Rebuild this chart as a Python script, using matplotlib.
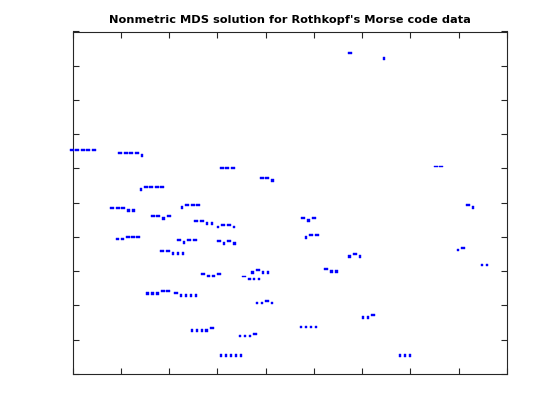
import matplotlib
matplotlib.use("Agg")
import matplotlib.pyplot as plt
import matplotlib.transforms as mtransforms
import matplotlib.patheffects as pe

# Morse code labels (A-Z, 0-9)
codes = [".-", "-...", "-.-.", "-..", ".", "..-.", "--.", "....", "..", ".---",
         "-.-", ".-..", "--", "-.", "---", ".--.", "--.-", ".-.", "...", "-",
         "..-", "...-", ".--", "-..-", "-.--", "--..",
         "-----", ".----", "..---", "...--", "....-", ".....", "-....", "--...", "---..", "----."]

# 2-D nonmetric MDS coordinates
x_coord = [0.355, -0.079, -0.131, 0.086, 0.195, -0.052, -0.047, 0.039, 0.404, -0.206,
           0.039, -0.061, 0.308, 0.375, -0.129, -0.132, -0.267, 0.135, 0.239, 0.124,
           0.163, -0.087, 0.045, -0.163, -0.213, -0.178,
           -0.429, -0.286, -0.335, -0.273, -0.182, -0.122, -0.216, -0.243, -0.346, -0.329]
y_coord = [-0.132, -0.216, -0.113, -0.194, 0.428, -0.287, 0.072, -0.357, -0.176, -0.007,
           -0.045, -0.197, 0.105, -0.007, 0.102, -0.065, -0.040, -0.150, -0.439, 0.437,
           -0.328, -0.383, -0.095, -0.208, -0.109, -0.054,
           0.154, 0.045, -0.100, -0.258, -0.366, -0.439, -0.264, -0.141, -0.016, 0.145]

fig = plt.figure(figsize=(5.6, 4.2), dpi=100)
ax = fig.add_axes([0.13, 0.11, 0.775, 0.815])

ax.plot(x_coord, y_coord, linestyle="none", marker="none")
offset = mtransforms.ScaledTranslation(0, -3.6 / 100, fig.dpi_scale_trans)
for xv, yv, c in zip(x_coord, y_coord, codes):
    ax.text(xv, yv, c, color="b", fontsize=9.4, fontweight="bold",
            ha="center", va="baseline", family="DejaVu Sans",
            transform=ax.transData + offset,
            path_effects=[pe.withStroke(linewidth=0.3, foreground="b")])

ax.set_xlim(-0.45, 0.45)
ax.set_ylim(-0.5, 0.5)
ax.set_xticks([-0.45 + 0.1 * i for i in range(10)])
ax.set_yticks([-0.5 + 0.1 * i for i in range(11)])
ax.set_xticklabels([])
ax.set_yticklabels([])
ax.tick_params(direction="in", length=4, width=0.8, color="#262626",
               top=True, right=True)
for s in ax.spines.values():
    s.set_linewidth(0.8)
    s.set_color("#262626")

ax.set_title("Nonmetric MDS solution for Rothkopf's Morse code data",
             fontsize=8.2, fontweight="bold", family="DejaVu Sans", pad=6)

fig.savefig("out.png", dpi=100)
